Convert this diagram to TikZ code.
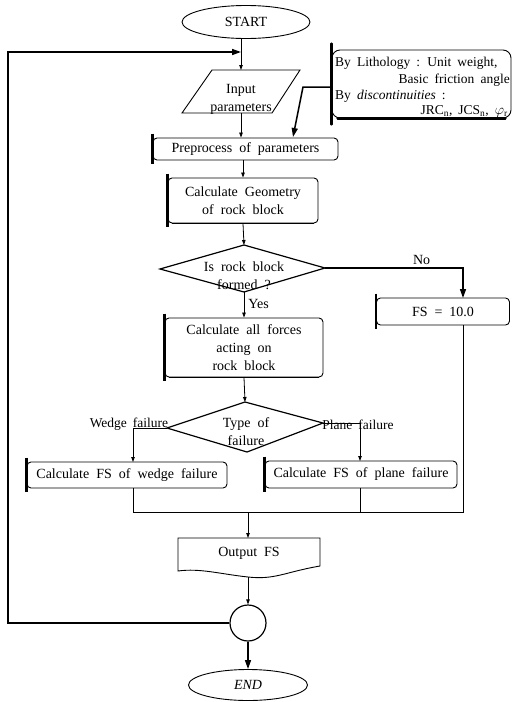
\documentclass[tikz,border=0pt]{standalone}
\usepackage{fontspec}
\setmainfont{Liberation Serif}
\usetikzlibrary{arrows.meta,shapes.geometric}
\newcommand{\bodyfnt}{\fontsize{14}{18}\selectfont\spaceskip=0.5em plus 0.1em\relax}
\newcommand{\lblfnt}{\fontsize{13.5}{16}\selectfont\spaceskip=0.45em plus 0.1em\relax}
\begin{document}
\begin{tikzpicture}[x=1pt,y=-1pt,
  every node/.style={font=\bodyfnt,inner sep=0pt,align=center},
  conn/.style={line width=0.8pt},
  thk/.style={line width=1.5pt},
  sarrow/.style={-{Triangle[length=5pt,width=3.5pt]}},
  barrow/.style={-{Triangle[length=9pt,width=6pt]}},
  pbox/.style={draw,line width=0.9pt,rounded corners=4pt},
  lbl/.style={font=\lblfnt}]
\useasboundingbox (0,0) rectangle (512,702);

% START / END
\node[draw,ellipse,line width=0.9pt,minimum width=128pt,minimum height=33pt] (start) at (246,22) {START};
\node[draw,ellipse,line width=0.9pt,minimum width=119pt,minimum height=31pt,font=\bodyfnt\itshape] (end) at (248,685) {END};

% input parallelogram
\node (input) at (241,99) {Input\\parameters};
\coordinate (inTL) at (212,70);
\coordinate (inTR) at (300,70);
\coordinate (inBR) at (272,113);
\coordinate (inBL) at (182,113);
\draw[line width=0.9pt] (inTL) -- (inTR) -- (inBR) -- (inBL) -- cycle;
\coordinate (inTop) at (241,70);
\coordinate (inBot) at (241,113);

% annotation
\node[pbox,minimum width=179pt,minimum height=68pt,rounded corners=8pt] (note) at (421.5,84) {};
\draw[line width=2.4pt,line cap=round] ([yshift=6pt]note.north west) -- ([yshift=-6pt]note.south west);
\draw[line width=2.4pt,line cap=round] ([xshift=6pt]note.south west) -- ([xshift=-6pt]note.south east);
\node[anchor=west,lbl] (n1) at (335,63) {By Lithology : Unit weight,};
\node[anchor=east,lbl] (n2) at (510,80) {Basic friction angle};
\node[anchor=west,lbl] (n3) at (335,96) {By \textit{discontinuities} :};
\node[anchor=east,lbl] (n4) at (508,111) {JRC$_{\mathrm{n}}$, JCS$_{\mathrm{n}}$, $\varphi_{\mathrm{r}}$};

% process boxes
\node[pbox,minimum width=185pt,minimum height=22pt] (pre) at (245.5,149) {Preprocess of parameters};
\node[pbox,minimum width=150pt,minimum height=45pt] (geom) at (243,200.5) {Calculate Geometry\\of rock block};
\node[pbox,minimum width=158pt,minimum height=59pt] (forces) at (244,347.5) {Calculate all forces\\acting on\\rock block};
\node[pbox,minimum width=133pt,minimum height=27pt] (fs) at (443,311.5) {FS = 10.0};
\node[pbox,minimum width=200pt,minimum height=26pt] (wedge) at (127,475) {Calculate FS of wedge failure};
\node[pbox,minimum width=192pt,minimum height=27pt] (plane) at (361,474.5) {Calculate FS of plane failure};
\foreach \b in {pre,geom,forces,fs,wedge,plane}{
  \draw[line width=2.2pt] ([yshift=4pt]\b.north west) -- ([yshift=-4pt]\b.south west);
}
\draw[line width=1.8pt] ([xshift=4pt]geom.south west) -- ([xshift=-4pt]geom.south east);
\draw[line width=1.8pt] ([xshift=4pt]forces.south west) -- ([xshift=-4pt]forces.south east);

% decision 1
\node (d1) at (244,276) {Is rock block\\formed ?};
\coordinate (d1T) at (244,245);
\coordinate (d1B) at (244,292);
\coordinate (d1L) at (160,269);
\coordinate (d1R) at (325,268);
\draw[line width=1.2pt] (d1T) -- (d1R) -- (d1B) -- (d1L) -- cycle;

% decision 2
\node (d2) at (246,432) {Type of\\failure};
\coordinate (d2T) at (245,402);
\coordinate (d2B) at (247,452);
\coordinate (d2L) at (167,428);
\coordinate (d2R) at (323,423);
\draw[line width=1.2pt] (d2T) -- (d2R) -- (d2B) -- (d2L) -- cycle;

% output document
\node (out) at (249,553) {Output FS};
\draw[line width=0.9pt] (178,538) -- (320,538) -- (320,566) .. controls (285,572) and (275,580) .. (248,577) .. controls (220,574) and (200,568) .. (178,571) -- cycle;
\coordinate (outTop) at (248,538);
\coordinate (outBot) at (248,577);

% connector circle
\node[draw,circle,line width=1.2pt,minimum size=36pt] (circ) at (248,623) {};

% connectors
\draw[conn,sarrow] (start.south -| inTop) -- (inTop);
\draw[conn,sarrow] (inBot) -- (inBot |- pre.north);
\draw[conn,sarrow] (243,160) -- (geom.north);
\draw[conn,sarrow] (geom.south) -- (d1T);
\draw[conn,sarrow] (d1B) -- (d1B |- forces.north) node[pos=0.45,right=4pt,anchor=west] (yes) {Yes};
\draw[thk,barrow] (d1R) -- (463,268) node[pos=0.7,above=3pt,anchor=south] (no) {No} -- (463,298);
\draw[conn,sarrow] (forces.south) -- (d2T);
\draw[conn,sarrow] (d2L) -- (133,428) -- (133,462);
\node[anchor=south,lbl] (wl) at (129,431) {Wedge failure};
\draw[conn,sarrow] (d2R) -- (360,423) -- (360,461);
\node[anchor=south,lbl] (pl) at (358,430) {Plane failure};
\coordinate (merge) at (248,512);
\draw[conn] (133,488) -- (133,512) -- (463,512) -- (463,325);
\draw[conn] (360,488) -- (360,512);
\draw[conn,sarrow] (merge) -- (outTop);
\draw[conn,sarrow] (outBot) -- (circ.north);
\draw[thk,barrow] (circ.south) -- (end.north);
\draw[thk,barrow] (circ.west) -- (8,623) -- (8,52) -- (241,52);
\draw[thk,barrow] (note.west |- 0,87) -- (303,87) -- (293,137);
\end{tikzpicture}
\end{document}
